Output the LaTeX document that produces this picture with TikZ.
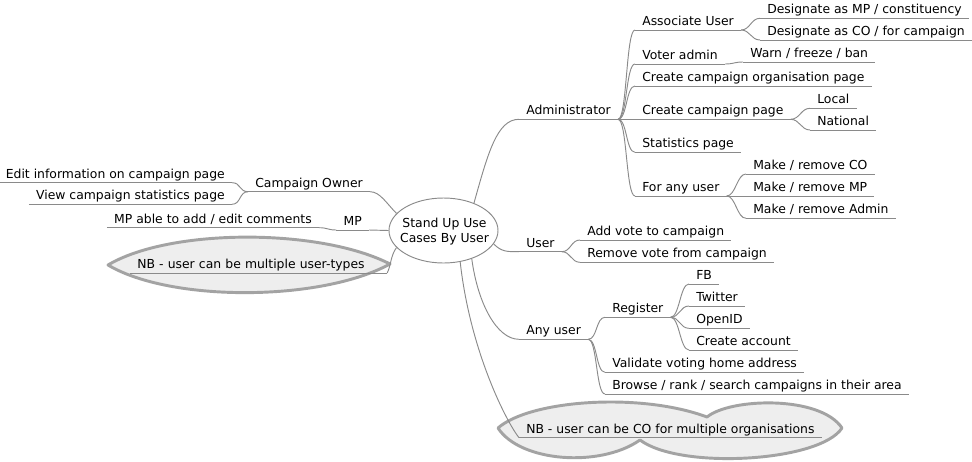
\documentclass[tikz,border=0pt]{standalone}
\usepackage{fontspec}
\setmainfont{DejaVu Sans}
\usetikzlibrary{shapes.geometric}
\definecolor{edgegray}{HTML}{8A8A8A}
\definecolor{cloudline}{HTML}{A3A3A3}
\definecolor{cloudfill}{HTML}{EEEEEE}
\begin{document}
\begin{tikzpicture}[x=0.75pt,y=-0.75pt,
  every node/.style={font=\fontsize{9.3pt}{11.25pt}\selectfont},
  fork/.style={inner xsep=5.25pt, inner ysep=0pt, text height=7pt, text depth=3.2pt, anchor=south west},
  leftfork/.style={fork, anchor=south east},
  branch/.style={draw=edgegray, line width=0.7pt},
  nbcloud/.style={draw=cloudline, fill=cloudfill, line width=2.2pt, line join=round}]
\useasboundingbox (0,0) rectangle (972,461);

\draw[nbcloud] (108,265) .. controls (170,228) and (320,228) .. (390,264)
  .. controls (320,302) and (170,302) .. (108,265) -- cycle;
\draw[nbcloud] (498,428) .. controls (530,400) and (640,392) .. (707,417)
  .. controls (730,398) and (820,395) .. (842,428)
  .. controls (820,462) and (680,470) .. (640,440)
  .. controls (600,468) and (520,462) .. (498,428) -- cycle;

\node[draw=edgegray, line width=0.7pt, ellipse, inner sep=0pt, minimum width=81.75pt, minimum height=48.75pt] (root) at (443.5,230.5) {};
\node[align=center, inner sep=0pt] (roottext) at (444.5,232) {Stand Up Use\\Cases By User};

\node[fork] (admin) at (519,119.3) {Administrator};
\node[fork] (assoc) at (635,30) {Associate User};
\node[fork] (desmp) at (760,18.3) {Designate as MP / constituency};
\node[fork] (desco) at (760,40) {Designate as CO / for campaign};
\node[fork] (voter) at (635,64) {Voter admin};
\node[fork] (warn) at (743,62) {Warn / freeze / ban};
\node[fork] (orgpage) at (635,86) {Create campaign organisation page};
\node[fork] (cpage) at (635,119.3) {Create campaign page};
\node[fork] (local) at (810,108.3) {Local};
\node[fork] (national) at (810,130) {National};
\node[fork] (stats) at (635,152.3) {Statistics page};
\node[fork] (forany) at (635,196) {For any user};
\node[fork] (mkco) at (746,174) {Make / remove CO};
\node[fork] (mkmp) at (746,196) {Make / remove MP};
\node[fork] (mkadm) at (746,218.3) {Make / remove Admin};

\node[fork] (user) at (519,251.7) {User};
\node[fork] (addvote) at (580,240) {Add vote to campaign};
\node[fork] (remvote) at (580,262.3) {Remove vote from campaign};

\node[fork] (anyusr) at (519,339.3) {Any user};
\node[fork] (register) at (605,317.3) {Register};
\node[fork] (fb) at (689,284) {FB};
\node[fork] (twitter) at (689,306) {Twitter};
\node[fork] (openid) at (689,328.3) {OpenID};
\node[fork] (account) at (689,350) {Create account};
\node[fork] (validate) at (605,372.3) {Validate voting home address};
\node[fork] (browse) at (605,394) {Browse / rank / search campaigns in their area};
\node[fork] (nbco) at (519,437.7) {NB - user can be CO for multiple organisations};

\node[leftfork] (coown) at (370,191.7) {Campaign Owner};
\node[leftfork] (edit) at (232,182.7) {Edit information on campaign page};
\node[leftfork] (view) at (232,204.3) {View campaign statistics page};
\node[leftfork] (mp) at (369,230) {MP};
\node[leftfork] (mpcomm) at (319,227.7) {MP able to add / edit comments};
\node[fork, text width=182pt, align=left] (nbmulti) at (130,273) {NB - user can be multiple user-types};

\foreach \n in {admin,assoc,desmp,desco,voter,warn,orgpage,cpage,local,national,stats,forany,mkco,mkmp,mkadm,
  user,addvote,remvote,anyusr,register,fb,twitter,openid,account,validate,browse,nbco,
  coown,edit,view,mp,mpcomm,nbmulti}
  \draw[branch] (\n.south west) -- (\n.south east);

\foreach \p/\c in {admin/assoc,admin/voter,admin/orgpage,admin/cpage,admin/stats,admin/forany,
  assoc/desmp,assoc/desco,voter/warn,cpage/local,cpage/national,forany/mkco,forany/mkmp,forany/mkadm,
  user/addvote,user/remvote,anyusr/register,anyusr/validate,anyusr/browse,
  register/fb,register/twitter,register/openid,register/account}
  \draw[branch] (\p.south east) .. controls +(9,0) and +(-9,0) .. (\c.south west);

\foreach \p/\c in {coown/edit,coown/view,mp/mpcomm}
  \draw[branch] (\p.south west) .. controls +(-9,0) and +(9,0) .. (\c.south east);

\draw[branch] (root.42) .. controls +(14,-50) and +(-22,0) .. (admin.south west);
\draw[branch] (root.-15) .. controls +(8,8) and +(-12,0) .. (user.south west);
\draw[branch] (root.-45) .. controls +(6,45) and +(-22,0) .. (anyusr.south west);
\draw[branch] (root.-62) .. controls +(10,90) and +(-12,-15) .. (nbco.south west);
\draw[branch] (root.160) .. controls +(-10,-10) and +(10,0) .. (coown.south east);
\draw[branch] (root.west) -- (mp.south east);
\draw[branch] (root.200) .. controls +(-6,8) and +(4,-8) .. (nbmulti.south east);
\end{tikzpicture}
\end{document}
